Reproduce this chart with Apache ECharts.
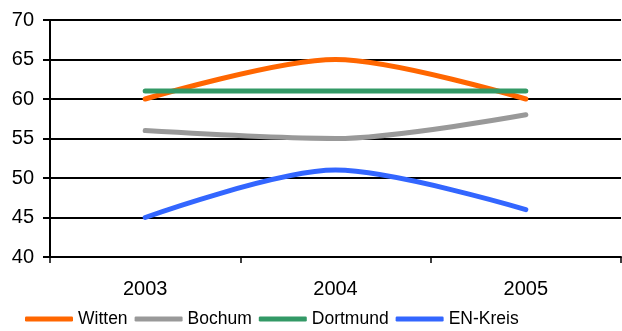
<!DOCTYPE html>
<html>
<head>
<meta charset="utf-8">
<script src="https://cdn.jsdelivr.net/npm/echarts@6/dist/echarts.min.js"></script>
<style>
  html, body { margin: 0; padding: 0; background: #fff; }
  #chart { width: 622px; height: 331px; }
</style>
</head>
<body>
<div id="chart"></div>
<script>
// Years on the category axis
const years = ['2003', '2004', '2005'];

// Values per region
const witten   = [60, 65, 60];
const bochum   = [56, 55, 58];
const dortmund = [61, 61, 61];
const enKreis  = [45, 51, 46];

const seriesNames  = ['Witten', 'Bochum', 'Dortmund', 'EN-Kreis'];
const seriesColors = ['#FF6600', '#999999', '#339966', '#3366FF'];
const seriesData   = [witten, bochum, dortmund, enKreis];

const chart = echarts.init(document.getElementById('chart'), null, { renderer: 'canvas' });

const font = 'Liberation Sans, Arial, sans-serif';

chart.setOption({
  animation: false,
  backgroundColor: '#ffffff',
  grid: { left: 50, right: 1, top: 20, bottom: 74 },
  legend: {
    top: 305,
    left: 20,
    itemWidth: 48,
    itemHeight: 5,
    itemGap: 7,
    icon: 'roundRect',
    textStyle: { fontFamily: font, fontSize: 17.5, color: '#000' },
    data: seriesNames
  },
  xAxis: {
    type: 'category',
    data: years,
    boundaryGap: true,
    axisLine: { lineStyle: { color: '#000', width: 2 } },
    axisTick: { show: true, length: 6, lineStyle: { color: '#000', width: 1.5 } },
    axisLabel: { fontFamily: font, fontSize: 20, color: '#000', margin: 22 }
  },
  yAxis: {
    type: 'value',
    min: 40,
    max: 70,
    interval: 5,
    axisLine: { show: true, lineStyle: { color: '#000', width: 2 } },
    axisTick: { show: true, length: 7, lineStyle: { color: '#000', width: 2 } },
    splitLine: { lineStyle: { color: '#000', width: 2 } },
    axisLabel: { fontFamily: font, fontSize: 20, color: '#000', margin: 16 }
  },
  series: seriesNames.map((name, i) => ({
    name: name,
    type: 'line',
    data: seriesData[i],
    smooth: 0.3,
    showSymbol: false,
    symbol: 'none',
    color: seriesColors[i],
    lineStyle: { width: 5, color: seriesColors[i], cap: 'round' }
  }))
});
</script>
</body>
</html>
